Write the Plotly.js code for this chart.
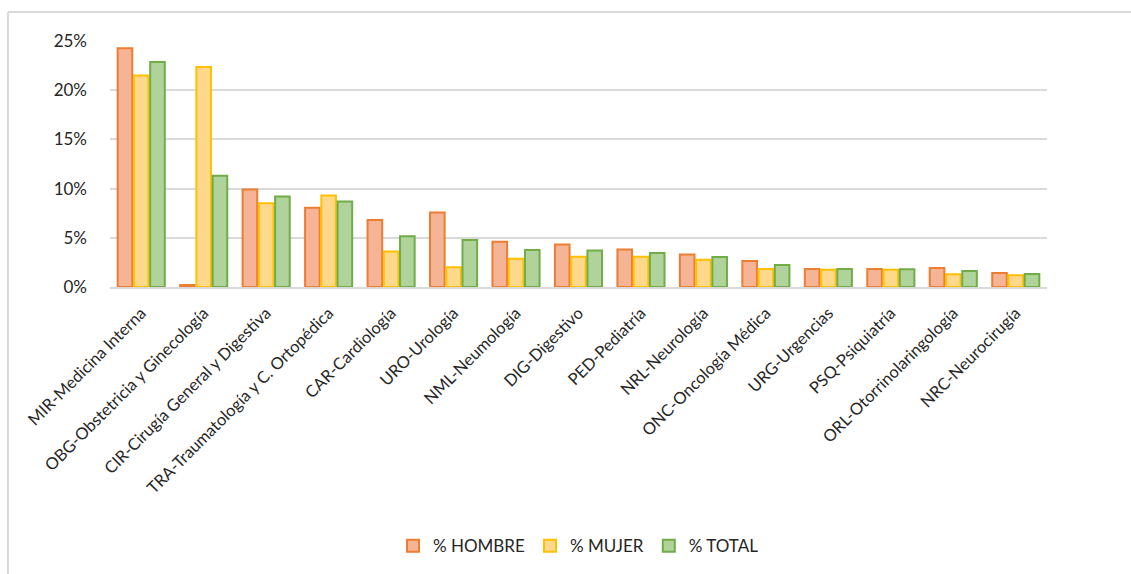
<!DOCTYPE html>
<html>
<head>
<meta charset="utf-8">
<script src="https://cdn.plot.ly/plotly-3.0.1.min.js"></script>
<style>
  html, body { margin: 0; padding: 0; background: #fff; }
  #chart { width: 1131px; height: 574px; }
</style>
</head>
<body>
<div id="chart"></div>
<script>
// Categorías (especialidades) y porcentajes por sexo
const categorias = [
  "MIR-Medicina Interna", "OBG-Obstetricia y Ginecología",
  "CIR-Cirugía General y Digestiva", "TRA-Traumatología y C. Ortopédica",
  "CAR-Cardiología", "URO-Urología", "NML-Neumología", "DIG-Digestivo",
  "PED-Pediatría", "NRL-Neurología", "ONC-Oncología Médica",
  "URG-Urgencias", "PSQ-Psiquiatría", "ORL-Otorrinolaringología",
  "NRC-Neurocirugía",
];
const hombre = [0.2426, 0.002, 0.099, 0.0805, 0.068, 0.0757, 0.046, 0.0433,
                0.0382, 0.0331, 0.0264, 0.0183, 0.0183, 0.0193, 0.0142];
const mujer  = [0.215, 0.2236, 0.085, 0.093, 0.036, 0.020, 0.0287, 0.0308,
                0.0308, 0.0278, 0.0183, 0.0176, 0.0176, 0.0129, 0.0119];
const total  = [0.2287, 0.113, 0.092, 0.0868, 0.0517, 0.0477, 0.0375, 0.0372,
                0.0345, 0.0304, 0.0223, 0.0183, 0.018, 0.0162, 0.0132];

const FONT = "Lato, 'Open Sans', sans-serif";

// ── Trazas ───────────────────────────────────────────────────────────────────
function serie(name, y, fill, line) {
  return {
    type: "bar", name, x: categorias, y,
    marker: { color: fill, line: { color: line, width: 2 } },
    hoverinfo: "x+y+name",
  };
}
const data = [
  serie("% HOMBRE", hombre, "#F6B497", "#ED7D31"),
  serie("% MUJER", mujer, "#FED98C", "#FFC000"),
  serie("% TOTAL", total, "#AFD39A", "#70AD47"),
];

// plot area: x 110..1047, y 41..288 (px)
const frame = { line: { color: "#D9D9D9", width: 2 }, xref: "paper", yref: "paper",
                type: "line", layer: "below" };
const layout = {
  width: 1131, height: 574,
  margin: { l: 110, r: 84, t: 41, b: 286 },
  paper_bgcolor: "#fff", plot_bgcolor: "#fff",
  font: { family: FONT, color: "#262626" },
  barmode: "group", bargap: 0.22, bargroupgap: 0.1,
  showlegend: true,
  legend: {
    orientation: "h", x: 0.5, xanchor: "center", y: -1.045, yanchor: "middle",
    font: { size: 17, family: FONT, color: "#262626" },
    traceorder: "normal", itemwidth: 30,
  },
  xaxis: {
    type: "category", tickangle: -45,
    tickfont: { size: 16.5, family: FONT, color: "#262626" },
    showgrid: false, showline: true, linecolor: "#D9D9D9", linewidth: 2,
    ticks: "", ticklabelstandoff: 8, fixedrange: true,
  },
  yaxis: {
    range: [0, 0.25], dtick: 0.05, tickformat: ".0%",
    tickfont: { size: 17, family: FONT, color: "#262626" },
    showgrid: true, gridcolor: "#D9D9D9", gridwidth: 2,
    zeroline: false, showline: false, ticks: "", ticklen: 0,
    ticklabelstandoff: 22, fixedrange: true,
  },
  // marco del gráfico: solo se ven los bordes superior e izquierdo
  shapes: [
    Object.assign({ x0: -0.1089, x1: -0.1089, y0: -1.25, y1: 1.1174 }, frame),
    Object.assign({ x0: -0.1089, x1: 1.25, y0: 1.1174, y1: 1.1174 }, frame),
  ],
};

Plotly.newPlot("chart", data, layout, { displayModeBar: false, responsive: false });
</script>
</body>
</html>
